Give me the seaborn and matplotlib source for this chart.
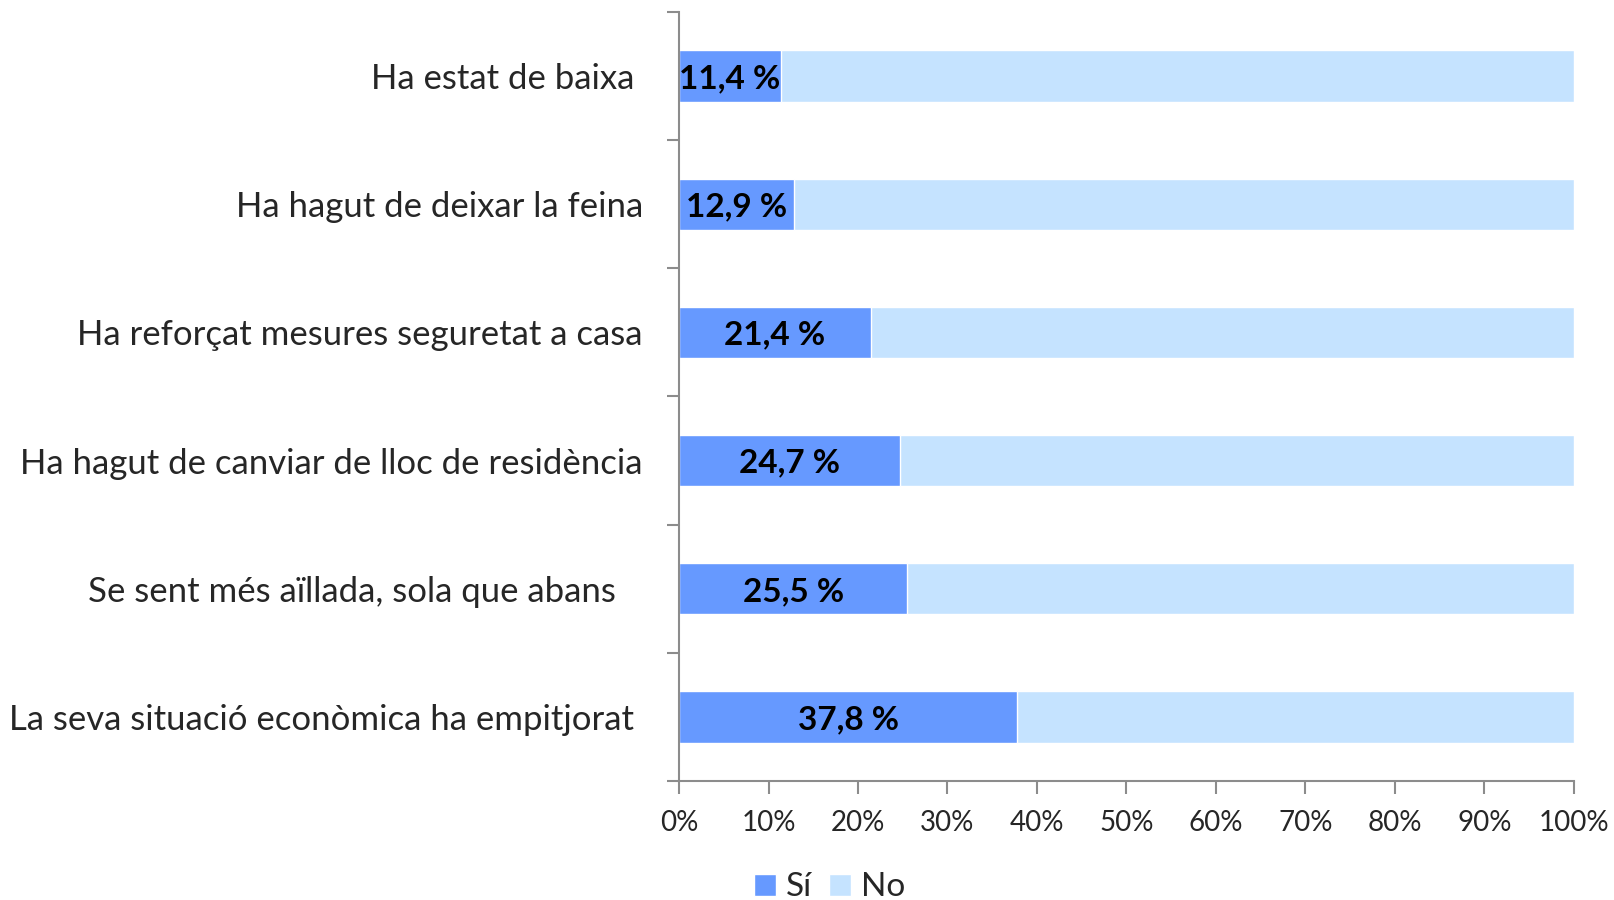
import matplotlib.pyplot as plt
import matplotlib.ticker as mticker
import seaborn as sns
import pandas as pd
import numpy as np

# data (top to bottom)
categories = [
    "Ha estat de baixa ",
    "Ha hagut de deixar la feina",
    "Ha reforçat mesures seguretat a casa",
    "Ha hagut de canviar de lloc de residència",
    "Se sent més aïllada, sola que abans   ",
    "La seva situació econòmica ha empitjorat ",
]
si_values = [11.4, 12.9, 21.4, 24.7, 25.5, 37.8]
no_values = [88.6, 87.1, 78.6, 75.3, 74.5, 62.2]

si_color = "#6699FF"
no_color = "#C5E3FF"
axis_gray = "#8C8C8C"

sns.set_theme(style="white")
plt.rcParams['font.family'] = ['Lato', 'DejaVu Sans']

df = pd.DataFrame({"cat": categories, "si": si_values, "no": no_values})
df["total"] = df["si"] + df["no"]

fig = plt.figure(figsize=(16.14, 9.0), dpi=100)
ax = fig.add_axes([0.4207, 0.1322, 0.5545, 0.8545])

sns.barplot(data=df, y="cat", x="total", color=no_color, orient="h",
            width=0.4, saturation=1, ax=ax, label="No")
sns.barplot(data=df, y="cat", x="si", color=si_color, orient="h",
            width=0.4, saturation=1, ax=ax, label="Sí")

for i, v in enumerate(si_values):
    ax.text(v / 2, i + 0.02, f"{v:.1f} %".replace(".", ","), ha="center",
            va="center", fontsize=24, fontweight="bold", color="black")

ax.set_xlim(0, 100)
ax.set_ylim(len(categories) - 0.5, -0.5)
ax.xaxis.set_major_locator(mticker.MultipleLocator(10))
ax.xaxis.set_major_formatter(mticker.FuncFormatter(lambda x, _: f"{x:.0f}%"))

# category labels at centres, tick marks at boundaries
ax.set_yticks(np.arange(-0.5, len(categories), 1.0))
ax.set_yticklabels([])
ax.set_yticks(np.arange(len(categories)), minor=True)
ax.set_yticklabels(categories, minor=True)
ax.tick_params(axis="y", which="minor", length=0, pad=26, labelsize=25)
ax.tick_params(axis="y", which="major", length=9, width=1.5, color=axis_gray,
               direction="out", left=True)
ax.tick_params(axis="x", length=9, width=1.5, color=axis_gray, direction="out",
               bottom=True, labelsize=20, pad=12)

ax.set_xlabel("")
ax.set_ylabel("")
for s in ["top", "right"]:
    ax.spines[s].set_visible(False)
for s in ["left", "bottom"]:
    ax.spines[s].set_color(axis_gray)
    ax.spines[s].set_linewidth(1.5)

handles, labels = ax.get_legend_handles_labels()
if ax.get_legend() is not None:
    ax.get_legend().remove()
order = [labels.index("Sí"), labels.index("No")]
fig.legend([handles[k] for k in order], ["Sí", "No"], loc="center",
           bbox_to_anchor=(0.514, 0.014), ncol=2, frameon=False, fontsize=24,
           handlelength=0.65, handleheight=0.65, handletextpad=0.3,
           columnspacing=0.5, borderpad=0.1)

fig.savefig("out.png", dpi=100)
